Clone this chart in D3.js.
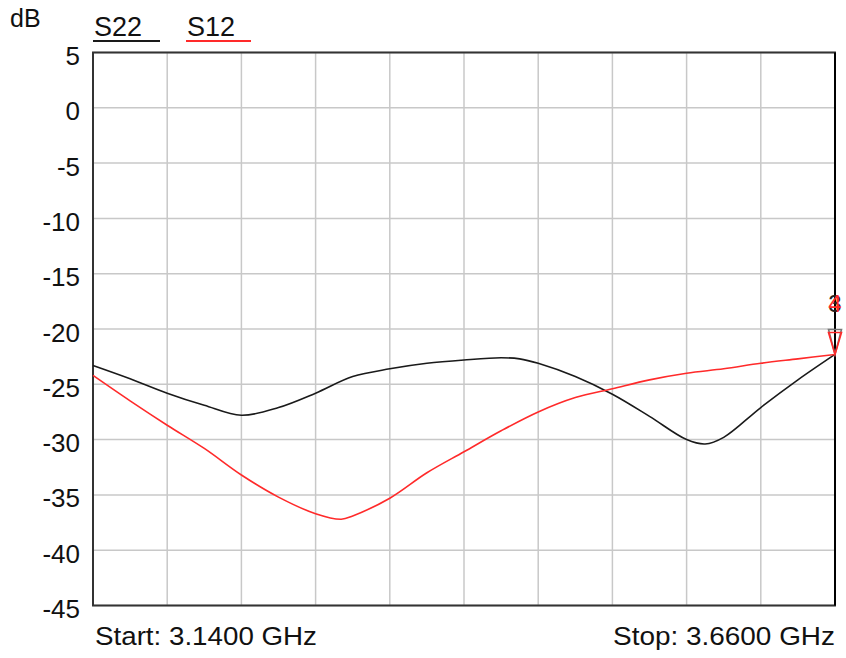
<!DOCTYPE html>
<html>
<head>
<meta charset="utf-8">
<script src="https://cdn.jsdelivr.net/npm/d3@7"></script>
<style>
  html, body { margin: 0; padding: 0; background: #fff; }
  text { font-family: "Liberation Sans", Arial, sans-serif; }
</style>
</head>
<body>
<div id="chart"></div>
<script>
// ---- data ----
const freqS22 = [3.140, 3.166, 3.192, 3.218, 3.244, 3.270, 3.296, 3.322, 3.348, 3.374, 3.400,
                 3.426, 3.439, 3.452, 3.478, 3.504, 3.530, 3.556, 3.569, 3.582, 3.608, 3.634, 3.660];
const s22 = [-23.3, -24.5, -25.8, -26.9, -27.8, -27.1, -25.8, -24.3, -23.6, -23.1, -22.8,
             -22.6, -22.7, -23.1, -24.3, -25.9, -27.9, -30.0, -30.4, -29.8, -27.1, -24.6, -22.3];

const freqS12 = [3.140, 3.166, 3.192, 3.218, 3.244, 3.270, 3.296, 3.314, 3.322, 3.348, 3.374,
                 3.400, 3.426, 3.452, 3.478, 3.504, 3.530, 3.556, 3.582, 3.608, 3.634, 3.660];
const s12 = [-24.2, -26.5, -28.7, -30.8, -33.2, -35.2, -36.7, -37.2, -36.9, -35.3, -33.0,
             -31.1, -29.2, -27.5, -26.2, -25.4, -24.6, -24.0, -23.6, -23.1, -22.7, -22.3];

const yTicks = [5, 0, -5, -10, -15, -20, -25, -30, -35, -40, -45];
const xGrid = [3.140, 3.192, 3.244, 3.296, 3.348, 3.400, 3.452, 3.504, 3.556, 3.608, 3.660];
const seriesNames = ['S22', 'S12'];
const markerIds = ['3', '4'];
const startLabel = 'Start: 3.1400 GHz';
const stopLabel = 'Stop: 3.6600 GHz';

// ---- layout ----
const width = 846, height = 658;
const pLeft = 93, pRight = 835, pTop = 52.5, pBottom = 605.5;
const colors = { S22: '#1a1a1a', S12: '#ff2a2a' };

const svg = d3.select('#chart').append('svg')
    .attr('width', width)
    .attr('height', height);

const x = d3.scaleLinear().domain([3.14, 3.66]).range([pLeft, pRight]);
const y = d3.scaleLinear().domain([-45, 5]).range([pBottom, pTop]);

// grid
svg.append('g')
    .selectAll('line')
    .data(xGrid)
    .enter().append('line')
    .attr('x1', d => x(d)).attr('x2', d => x(d))
    .attr('y1', pTop).attr('y2', pBottom)
    .attr('stroke', '#c8c8c8')
    .attr('stroke-width', 1.5);

svg.append('g')
    .selectAll('line')
    .data(yTicks)
    .enter().append('line')
    .attr('x1', pLeft).attr('x2', pRight)
    .attr('y1', d => y(d)).attr('y2', d => y(d))
    .attr('stroke', '#c8c8c8')
    .attr('stroke-width', 1.5);

// y tick labels
svg.append('g')
    .selectAll('text')
    .data(yTicks)
    .enter().append('text')
    .attr('x', 80)
    .attr('y', d => y(d) + 12.5)
    .attr('text-anchor', 'end')
    .attr('font-size', '26px')
    .attr('fill', '#111')
    .text(d => d);

// frame
svg.append('rect')
    .attr('x', pLeft).attr('y', pTop)
    .attr('width', pRight - pLeft).attr('height', pBottom - pTop)
    .attr('fill', 'none')
    .attr('stroke', '#333')
    .attr('stroke-width', 2);
svg.append('line')
    .attr('x1', pRight).attr('x2', pRight)
    .attr('y1', pTop).attr('y2', pBottom)
    .attr('stroke', '#000')
    .attr('stroke-width', 2);

// traces
const line = d3.line()
    .x(d => x(d[0]))
    .y(d => y(d[1]))
    .curve(d3.curveCatmullRom.alpha(0.5));

const traces = [
    { name: 'S22', pts: freqS22.map((f, i) => [f, s22[i]]) },
    { name: 'S12', pts: freqS12.map((f, i) => [f, s12[i]]) }
];

svg.append('g')
    .selectAll('path')
    .data(traces)
    .enter().append('path')
    .attr('d', d => line(d.pts))
    .attr('fill', 'none')
    .attr('stroke', d => colors[d.name])
    .attr('stroke-width', 1.6);

// end markers (triangles pointing down onto the last point)
traces.forEach((t, i) => {
    const p = t.pts[t.pts.length - 1];
    const px = x(p[0]), py = y(p[1]);
    const c = i === 0 ? '#777' : colors[t.name];
    const h = i === 0 ? 25 : 22;
    svg.append('path')
        .attr('d', `M${px - 6.5},${py - h}L${px + 6.5},${py - h}L${px},${py}Z`)
        .attr('fill', 'none')
        .attr('stroke', c)
        .attr('stroke-width', 1.6);
    svg.append('text')
        .attr('x', px)
        .attr('y', py - 42)
        .attr('text-anchor', 'middle')
        .attr('font-size', '24px')
        .attr('fill', i === 0 ? '#222' : colors[t.name])
        .text(markerIds[i]);
});

// unit + legend
svg.append('text')
    .attr('x', 10).attr('y', 27)
    .attr('font-size', '25px')
    .attr('fill', '#111')
    .text('dB');

const legendX = [94, 187];
const legendW = [67, 65];
seriesNames.forEach((n, i) => {
    svg.append('text')
        .attr('x', legendX[i]).attr('y', 36)
        .attr('font-size', '27px')
        .attr('fill', '#111')
        .text(n);
    svg.append('line')
        .attr('x1', legendX[i] - 1).attr('x2', legendX[i] - 1 + legendW[i])
        .attr('y1', 41).attr('y2', 41)
        .attr('stroke', colors[n])
        .attr('stroke-width', 2);
});

// start / stop
svg.append('text')
    .attr('x', 95).attr('y', 645)
    .attr('font-size', '26px')
    .attr('textLength', 222)
    .attr('lengthAdjust', 'spacingAndGlyphs')
    .attr('fill', '#111')
    .text(startLabel);
svg.append('text')
    .attr('x', pRight - 222).attr('y', 645)
    .attr('font-size', '26px')
    .attr('textLength', 222)
    .attr('lengthAdjust', 'spacingAndGlyphs')
    .attr('fill', '#111')
    .text(stopLabel);
</script>
</body>
</html>
